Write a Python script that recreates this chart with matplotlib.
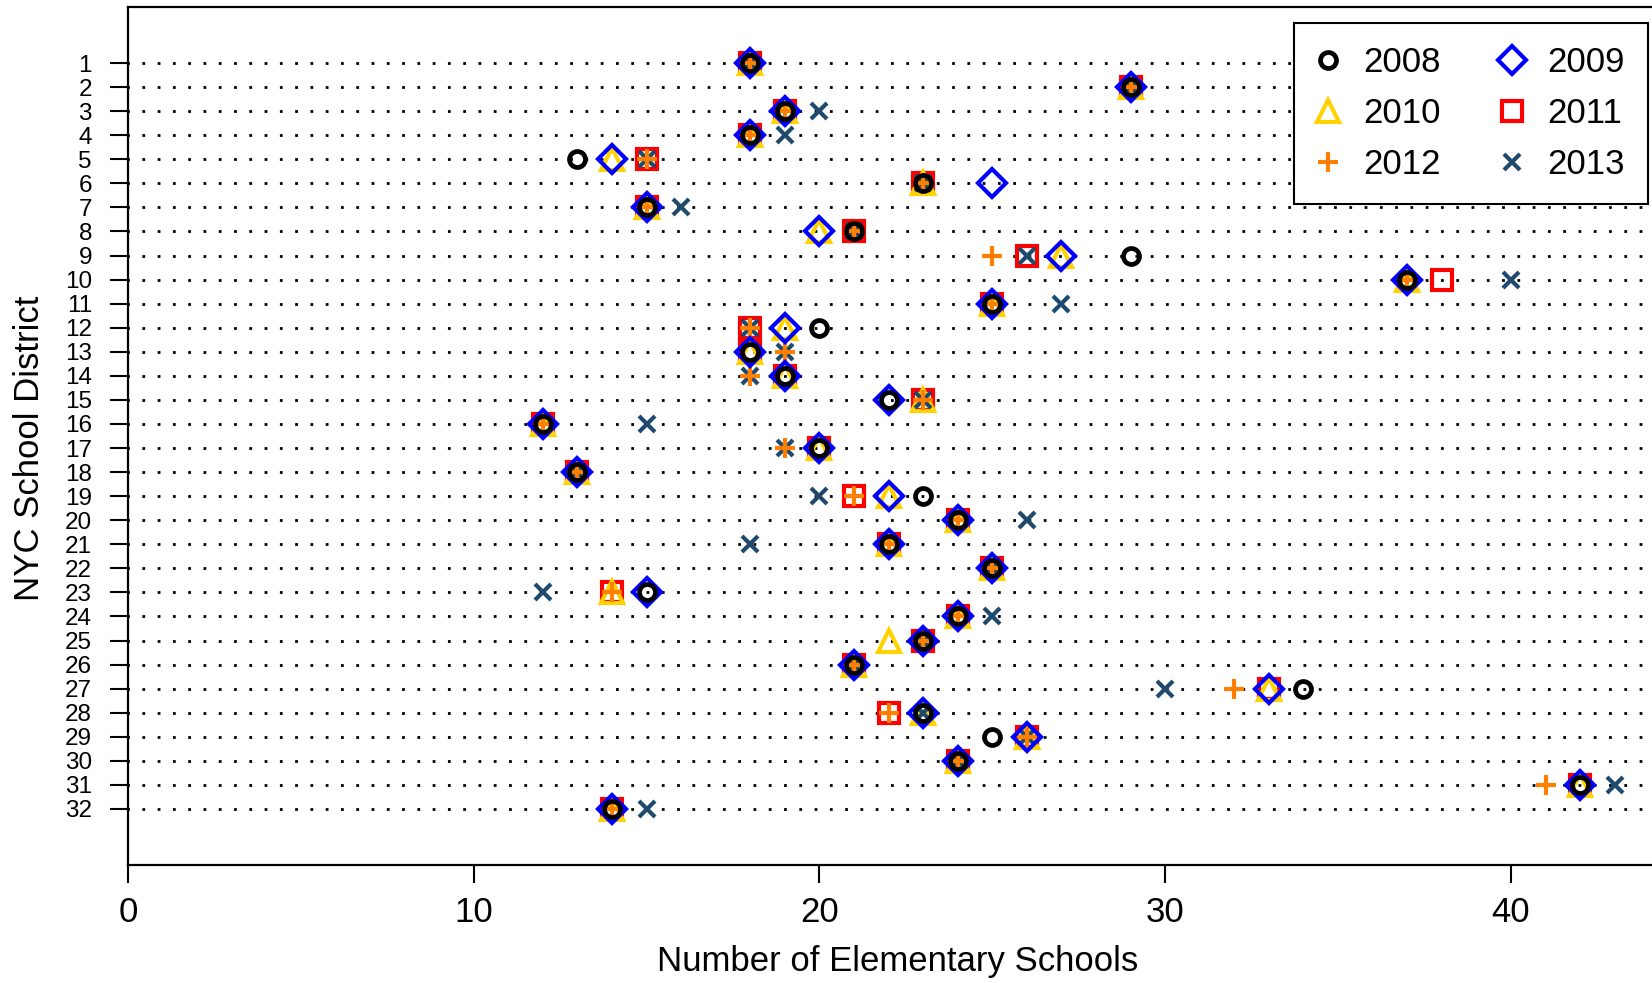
import matplotlib
matplotlib.use('Agg')
import matplotlib.pyplot as plt

plt.rcParams['font.family'] = ['Liberation Sans', 'DejaVu Sans']

districts = list(range(1, 33))
v2008 = [18,29,19,18,13,23,15,21,29,37,25,20,18,19,22,12,20,13,23,24,22,25,15,24,23,21,34,23,25,24,42,14]
v2009 = [18,29,19,18,14,25,15,20,27,37,25,19,18,19,22,12,20,13,22,24,22,25,15,24,23,21,33,23,26,24,42,14]
v2010 = [18,29,19,18,14,23,15,20,27,37,25,19,18,19,23,12,20,13,22,24,22,25,14,24,22,21,33,23,26,24,42,14]
v2011 = [18,29,19,18,15,23,15,21,26,38,25,18,18,19,23,12,20,13,21,24,22,25,14,24,23,21,33,22,26,24,42,14]
v2012 = [18,29,19,18,15,23,15,21,25,37,25,18,19,18,23,12,19,13,21,24,22,25,14,24,23,21,32,22,26,24,41,14]
v2013 = [18,29,20,19,15,23,16,21,26,40,27,18,19,18,23,15,19,13,20,26,18,25,12,25,23,21,30,23,26,24,43,15]
years = ['2008', '2009', '2010', '2011', '2012', '2013']
xticks = [0, 10, 20, 30, 40]

col = {'2008': 'black', '2009': '#0000FF', '2010': '#FFD200', '2011': '#FF0000',
       '2012': '#FF7F00', '2013': '#1F4A6E'}
mk = {'2008': dict(marker='o', ms=11.5, mew=3.4),
      '2009': dict(marker='D', ms=14.3, mew=3.0),
      '2010': dict(marker='^', ms=16.5, mew=3.0),
      '2011': dict(marker='s', ms=14.5, mew=3.0),
      '2012': dict(marker='+', ms=15.0, mew=3.0),
      '2013': dict(marker='x', ms=11.0, mew=3.0)}
vals = {'2008': v2008, '2009': v2009, '2010': v2010, '2011': v2011, '2012': v2012, '2013': v2013}

fig = plt.figure(figsize=(16.52, 9.83), dpi=100)
ax = fig.add_axes([128/1652, 1-865/983, 1-128/1652, (865-7)/983])
XMAX = 44.08
ax.set_xlim(0, XMAX)
ax.set_ylim(34.33, -1.33)

# dotted guide lines
for d in districts:
    ax.plot([0, XMAX], [d, d], color='black', lw=2.0,
            linestyle=(-5.0, (1.0, 4.5)), dash_capstyle='butt', zorder=1)

order = ['2011', '2010', '2013', '2012', '2009', '2008']
handles = {}
for i, y in enumerate(order):
    h, = ax.plot(vals[y], districts, linestyle='none', color=col[y],
                 markerfacecolor='none', markeredgecolor=col[y],
                 zorder=3 + i, label=y, **mk[y])
    handles[y] = h

ax.set_yticks(districts)
ax.set_yticklabels([str(d) for d in districts], fontsize=17.5)
ax.set_xticks(xticks)
ax.set_xticklabels([str(x) for x in xticks], fontsize=25)
ax.tick_params(axis='both', direction='out', length=13, width=1.5, color='black')
ax.tick_params(axis='y', pad=13)
ax.tick_params(axis='x', pad=9)
for s in ['left', 'top', 'bottom']:
    ax.spines[s].set_linewidth(1.6)
ax.spines['right'].set_visible(False)

fig.text(898/1652, 1-961/983, 'Number of Elementary Schools', fontsize=25,
         ha='center', va='center')
fig.text(30/1652, 1-448/983, 'NYC School District', fontsize=25, rotation=90,
         ha='center', va='center')

leg_order = ['2008', '2010', '2012', '2009', '2011', '2013']
leg = ax.legend([handles[y] for y in leg_order], leg_order, ncol=2, fontsize=25,
                loc='upper right', bbox_to_anchor=(1648/1652, 1-23/983),
                bbox_transform=fig.transFigure, borderaxespad=0,
                frameon=True, fancybox=False, framealpha=1, edgecolor='black',
                handlelength=0.63, handletextpad=0.72, columnspacing=1.72,
                labelspacing=0.52, borderpad=0.66)
leg.get_frame().set_linewidth(1.5)
leg.set_zorder(20)

fig.savefig('out.png', dpi=100)
